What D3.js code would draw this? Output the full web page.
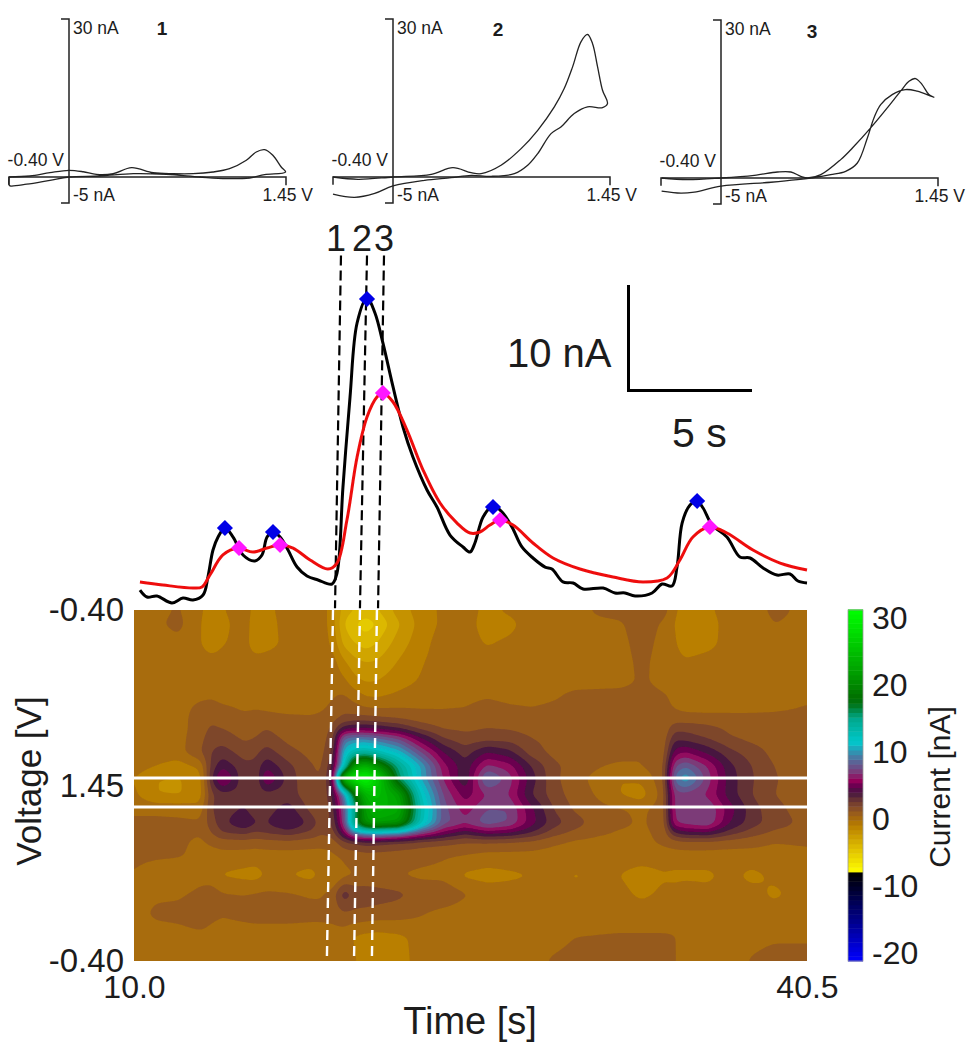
<!DOCTYPE html>
<html><head><meta charset="utf-8">
<script src="https://cdn.jsdelivr.net/npm/d3@7"></script>
<style>html,body{margin:0;background:#fff}svg{display:block}text{font-family:"Liberation Sans",Arial,sans-serif;fill:#1c1c1c}</style>
</head><body><svg id="c" width="974" height="1050"></svg>
<script>
// ---------- data ----------
const gridTimes=[10,11,12,13,13.5,14,15,15.5,16,17,18,18.5,19,19.5,20,20.5,21,22,23,24,25,26,27,28,29,30,31,32,33,34,34.5,35,36,37,38,39,40.5];
const gridScan=[0,.15,.35,.55,.75,.9,1.05,1.15,1.25,1.35,1.5,1.65,1.78,1.95,2.1,2.25,2.35,2.45,2.6,2.8,3,3.2,3.45,3.7];
const gridCurrent=[
[0,.2,.6,-.3,-1,-.6,.2,-1,-.8,0,0,0,-1,-3,-3.5,-4,-3.6,-2,-1,-.3,0,-.8,-.3,0,0,0,.7,1,1.2,1,-.3,-1,-.7,0,.3,.6,.4],
[0,.3,.8,-.4,-1.3,-.9,.2,-1.3,-1,0,-.2,0,-1,-3.5,-4.5,-5,-4.5,-2.6,-1.1,-.3,0,-1,-.8,0,0,0,.2,.3,1.2,.3,-.5,-1.4,-1,0,.2,.5,.4],
[0,0,.2,-.4,-1.2,-.6,0,-1.2,-.9,-.2,-.2,0,-.7,-2.8,-3.5,-4,-3.5,-2,-.9,0,0,-.6,-.3,0,0,0,0,.1,1,.1,-.3,-1.3,-.9,0,0,.3,.3],
[0,0,0,0,0,0,0,0,0,0,0,0,0,-1.3,-2.2,-2.5,-2.4,-1.4,-.6,0,0,0,0,0,0,0,0,0,.8,0,0,-.3,0,0,0,.2,.3],
[0,0,0,0,0,0,0,0,0,0,0,0,.2,-.2,-1.2,-1.6,-1.5,-.9,-.4,0,0,0,0,0,0,0,0,0,.7,.1,.1,0,0,0,0,.2,.1],
[0,0,0,.2,.3,0,0,0,0,0,0,0,.4,.6,0,-.6,-.7,-.3,0,0,0,.3,0,0,.3,.8,.9,1,1,.6,.3,0,0,0,0,.1,.3],
[0,0,0,.9,1.1,.8,.4,.5,.4,.2,.2,.4,.8,1.3,1,.7,.6,.6,.5,.5,.6,1.2,.8,.6,.8,.9,1,1,.9,.7,.5,.3,.2,.2,.2,.3,.6],
[0,0,.1,1,1.3,1,.8,.9,.9,.8,.7,.8,1.2,1.8,2,2,1.8,1.5,1.1,1,1,1.2,1.1,1,1,1,1,.8,.7,.9,1,1,1,1,1,1,1],
[0,0,.1,1,1.7,1.5,1,1.2,1.5,1,.9,1,1.7,4,4.5,4.5,4.3,3.5,2.2,1.4,1.3,1.5,1.4,1.2,1,1,1,.9,.9,.7,2.2,2.2,1.8,1.3,1,1,1],
[0,0,.1,1.2,2,2,1.3,1.5,1.9,1.2,1,1.1,2,8.5,9,9,8.5,7.2,4.5,2.5,1.8,2,2,1.5,1.2,1,1,.9,.5,.9,3.2,3,2.4,1.6,1.2,1,1],
[0,0,.1,1.4,2.5,3,2,2.2,3,1.8,1.2,1.2,2.5,11,13.5,14,13,11,7.5,4.5,3,4.5,3.8,2,1.2,.9,.9,.9,.5,1,5,5.5,4.2,2.8,2,1.2,.8],
[0,-.5,-1,-.3,2.8,4.3,2.8,2.8,4.3,2.8,1.6,1.3,3.5,12,22,24,21,15,10.5,6,3.8,6.8,6,3.5,1.8,1,.6,.3,.5,1.2,7.5,8.5,6.5,3.8,2.5,1.5,.8],
[-.5,-1.5,-1.6,-1,3.3,6.2,2.6,2.4,5.8,3,1.7,1.5,4,25,29,31,27,16,10.5,6.5,3.5,9,7,4,1.8,.8,.2,-.5,-.3,1.2,9,10.5,7,4,2.6,1.6,.9],
[-.3,-1.5,-1.6,-1,2.3,3,3.2,2.8,3,3,1.8,1.5,3.5,9,18,24,25,22,12.5,7.5,5,6.5,6.5,3.5,2,1,.4,-.5,-1,1,7,7,6.3,4,2.5,1.5,1],
[.3,.2,.2,-.1,2.5,3,3.6,2.8,3,4,2.2,1.5,3,7.5,15,22,24,23,13.5,8,6,7.5,7.5,4.8,2.5,1.3,.8,.6,.3,1,7,7,7.5,5,3,1.8,1],
[.7,.8,.7,.7,2,3.2,4.5,3.6,3.5,4.8,3.2,2,2.5,7,16,21,22,21,13,8,6.8,8.2,7.5,5,3,2,1,.7,.4,.9,6.5,7,7.5,4.5,3,2,1.2],
[.7,.8,.7,.6,1.5,2.5,2.8,2.3,2.6,3,2.3,1.6,2,5,10,11,11.5,10.5,7.5,5.3,3.8,5,4.6,3.5,2,1.2,.7,.4,.3,.8,3.5,4.2,4.4,3,2,1.3,1],
[.7,.8,.7,.3,.7,1,1.1,1,1.1,1.2,1,.9,1,2.2,2.5,3,2.8,2.4,2,1.8,1.5,1.5,1.4,1.2,.7,.3,.2,.2,.2,.7,1,1.2,1.2,1,.8,.5,.6],
[.8,.7,.6,.2,0,.1,0,-.1,0,0,0,0,.3,.7,.9,1,1,.9,.8,.6,.4,.1,.1,.1,0,0,0,0,0,0,0,0,0,0,.1,.2,.3],
[.4,-.3,-.5,.1,0,-.6,-.8,-.9,-.4,-.5,-.8,-.3,-.7,.2,.5,.6,.6,.5,.3,.2,-.7,-.9,-.7,-.5,-.2,-.6,-.3,-.5,-1,-.6,-.7,-.7,-.7,-.2,-.8,-.3,0],
[0,.3,.3,.8,1,.6,.5,.6,.7,.6,.4,.4,.9,3.2,2.2,2.2,2,1.7,1.2,1.3,.6,.1,0,0,0,-.2,-.3,-.2,-.7,-.3,-.2,0,-.2,0,-.1,-.7,0],
[.1,.7,.9,1.3,.8,.6,.8,.9,.9,.9,.8,.8,.9,1.4,1.3,1.2,1.1,1,.6,.2,0,0,0,0,0,0,0,0,0,0,0,0,0,0,0,0,0],
[0,0,0,.2,.1,0,0,0,0,0,0,0,0,-.1,-.6,-.8,-.9,-.7,-.2,0,0,0,.1,0,.2,.5,.55,.6,.6,.6,.55,.2,0,0,.1,.3,.3],
[0,0,0,0,0,0,0,0,0,0,0,0,0,0,-.4,-1,-1,-.8,-.2,0,0,0,0,.2,.6,.8,.8,.8,.8,.7,.6,0,0,0,.6,1,1]
];
const cbStops=[-21.2,-8.01,-8,-4,-1,0,1,2,3,4,5,5.8,7,9,11.5,15,17,18,22,31.2];
const cbColors=["#0000ff","#000000","#ffff00","#dcb800","#b97f00","#a86c0a","#965a1e","#7e462c","#643036","#461640","#6a0050","#96005a","#7c3a78","#50709f","#00c8cc","#00a88c","#007820","#006e00","#00a000","#00ff00"];
const cbTicks=[30,20,10,0,-10,-20];
const voltageTicks=[0,1.85,3.7], voltageLabels=["-0.40","1.45","-0.40"];
const timeTicks=[10,40.5];

const fastTime=[10.27,10.59,11.04,11.72,12.22,12.67,13.13,13.35,13.58,13.81,14.12,14.49,14.94,15.48,15.8,16.03,16.3,16.62,16.98,17.39,17.84,18.34,18.97,19.2,19.47,19.79,20.11,20.56,20.92,21.28,21.74,22.19,22.64,23.28,23.73,24.32,24.91,25.23,25.45,25.82,26.27,26.68,27.13,27.58,28.08,28.63,28.94,29.44,29.9,30.35,31.26,31.8,32.25,32.71,33.48,33.93,34.38,34.61,34.84,35.2,35.52,35.79,36.2,36.87,37.46,37.92,38.51,39.14,39.73,40.09,40.5];
const fastCurrent=[1.33,.67,.76,.1,.57,.38,.86,2.57,5.14,6.38,7.24,6.38,4.67,4.1,4.67,6.38,6.86,6.38,5.14,3.52,2.67,2.29,1.9,2.95,11.14,19.71,26.76,29.14,27.71,24.86,20.67,16.86,14,10.86,9.24,6.57,5.43,4.95,5.81,8.29,9.33,8.76,7.33,5.43,4.38,3.52,3.33,2.1,2,1.43,1.52,1.05,1.05,.76,1.05,1.9,1.71,3.52,7.71,9.43,9.81,9.14,7.52,6.38,4.48,4.38,3.43,2.76,2.86,2.19,2];
const slowTime=[10.27,11.31,12.67,13.08,13.44,14.03,14.71,15.39,16.03,16.62,17.21,17.98,18.79,19.2,19.65,20.11,20.56,21.01,21.28,21.74,22.37,23.1,23.87,24.64,25.23,25.68,26.13,26.59,27.18,28.08,28.99,30.21,31.71,33.07,34.16,34.74,35.33,36.1,36.87,38.05,39.28,40.5];
const slowCurrent=[2.1,1.81,1.52,1.62,2.76,4.67,5.33,4.95,5.33,5.62,5.33,4.19,3.33,3.9,8,14,17.81,19.71,20.1,19.24,16.57,12.76,9.62,7.71,6.76,6.86,7.52,8,7.52,5.81,4.38,3.33,2.57,2.1,2.48,4.19,6.38,7.33,6.76,5.14,3.9,3.24];
const fastPeakTime=[14.12,16.3,20.56,26.27,35.52], fastPeakCurrent=[7.24,6.86,29.05,9.24,9.81];
const slowPeakTime=[14.76,16.62,21.28,26.59,36.1], slowPeakCurrent=[5.33,5.62,20.1,8,7.33];
const cursorLabels=["1","2","3"];
const cursorTraceTop=[19.38,20.56,21.33], cursorTraceBottom=[19.11,20.24,21.06];
const cursorHeatTop=[19.02,20.24,21.01], cursorHeatBottom=[18.74,19.97,20.78];
const sliceScan=[1.771,2.077];

const cv1Volt=[-.4,-.26,-.127,0,.095,.184,.295,.418,.562,.695,.829,.962,1.073,1.185,1.251,1.307,1.362,1.418,1.447,1.307,1.207,1.051,.873,.651,.429,.207,0,-.127,-.282,-.393,-.4,-.4];
const cv1Current=[0,.19,.82,1.27,1,.5,.63,1.77,.82,.63,.63,.95,1.58,3.17,4.75,5.2,4.12,1.9,.95,.44,-.19,-.32,0,.5,.63,.19,0,-.63,-1.39,-1.71,-1.5,0];
const cv2Volt=[-.4,-.233,0,.256,.4,.522,.589,.722,.856,.967,1.078,1.144,1.2,1.256,1.3,1.333,1.367,1.4,1.433,1.4,1.3,1.211,1.122,1.056,.967,.9,.811,.656,.522,.389,.211,0,-.122,-.256,-.4];
const cv2Current=[0,-.44,0,.51,1.77,.82,.63,2.22,5.39,8.87,13.31,16.79,20.91,25.67,27.06,25.35,20.91,16.48,13.94,13.18,13.31,12.04,9.51,8.24,4.44,2.22,.63,.13,.32,-.13,-.63,-1.71,-3.17,-3.93,-3.3];
const cv3Volt=[-.396,-.222,0,.222,.378,.467,.533,.578,.667,.8,.889,1,1.111,1.2,1.256,1.3,1.344,1.389,1.422,1.311,1.233,1.144,1.067,1.022,.978,.911,.833,.733,.6,.511,.333,0,-.178,-.267,-.396];
const cv3Current=[0,-.32,0,.51,1.14,1.14,.32,0,.63,3.49,6.02,9.51,13.31,16.48,18.38,18.88,17.74,15.84,15.34,16.48,16.79,15.84,13.94,11.41,7.6,2.85,1.27,.63,0,-.32,-.82,-1.58,-2.72,-2.92,-2.53];
const cvNames=["1","2","3"];
const cvTopLabel="30 nA", cvBottomLabel="-5 nA", cvLeftLabel="-0.40 V", cvRightLabel="1.45 V";

// ---------- scales ----------
const svg=d3.select("#c");
const defs=svg.append("defs");
defs.append("filter").attr("id","soft").attr("x","-5%").attr("y","-5%").attr("width","110%").attr("height","110%")
  .append("feGaussianBlur").attr("stdDeviation",.6);
defs.append("filter").attr("id","soft2").attr("filterUnits","userSpaceOnUse").attr("x",0).attr("y",0).attr("width",974).attr("height",1050)
  .append("feGaussianBlur").attr("stdDeviation",.45);
defs.append("clipPath").attr("id","hc").append("rect").attr("x",134).attr("y",610).attr("width",673).attr("height",351);

const x=d3.scaleLinear().domain([10,40.5]).range([134,807]);
const yScan=d3.scaleLinear().domain([0,3.7]).range([610,961]);
const yI=d3.scaleLinear().domain([0,30]).range([604,289]);
const cb=d3.scaleLinear().domain(cbStops).range(cbColors).interpolate(d3.interpolateRgb);
const yCb=d3.scaleLinear().domain([-21.2,31.2]).range([961,610]);

// ---------- heat map ----------
gridCurrent.forEach((r,i)=>{if(r.length!==gridTimes.length)throw new Error("row "+i+" len "+r.length)});
if(gridCurrent.length!==gridScan.length)throw new Error("rows");
const cell=2, W=Math.round(673/cell), H=Math.round(351/cell);
const tOf=d3.scaleLinear().domain([0,W-1]).range([10,40.5]);
const sOf=d3.scaleLinear().domain([0,H-1]).range([0,3.7]);
const bis=d3.bisector(d=>d).right;
function locate(arr,v){let i=Math.min(arr.length-2,Math.max(0,bis(arr,v)-1));let f=(v-arr[i])/(arr[i+1]-arr[i]);return [i,f];}
const field=new Float64Array(W*H);
for(let j=0;j<H;j++){const [r,fr]=locate(gridScan,sOf(j));
  for(let i=0;i<W;i++){const [c,fc]=locate(gridTimes,tOf(i));
    const g=gridCurrent;
    field[j*W+i]=(g[r][c]*(1-fc)+g[r][c+1]*fc)*(1-fr)+(g[r+1][c]*(1-fc)+g[r+1][c+1]*fc)*fr;
  }}
d3.blur2({data:field,width:W,height:H},1);
const heatLevels=d3.range(-8.5,32,1);
const contours=d3.contours().size([W,H]).smooth(true).thresholds(heatLevels)(field);
const path=d3.geoPath(d3.geoIdentity().scale(673/(W-1)).translate([134-673/(W-1)*.5,610-351/(H-1)*.5]));
const heat=svg.append("g").attr("clip-path","url(#hc)").append("g").attr("filter","url(#soft)");
heat.append("rect").attr("x",130).attr("y",606).attr("width",681).attr("height",359).attr("fill",cb(0));
heat.selectAll("path").data(contours).join("path").attr("d",path).attr("fill",d=>cb(d.value+.5));

// slice lines & cursors over heat
svg.append("g").selectAll("line").data(sliceScan).join("line")
  .attr("x1",x(10)).attr("x2",x(40.5)).attr("y1",yScan).attr("y2",yScan)
  .attr("stroke","#fff").attr("stroke-width",3);
svg.append("g").selectAll("line").data(d3.range(3)).join("line")
  .attr("x1",i=>x(cursorHeatTop[i])).attr("x2",i=>x(cursorHeatBottom[i]))
  .attr("y1",yScan(0)).attr("y2",yScan(3.7))
  .attr("stroke","#fff").attr("stroke-width",2.4).attr("stroke-dasharray","10 6");

// ---------- traces ----------
const tr=svg.append("g").attr("filter","url(#soft2)");
tr.append("g").selectAll("line").data(d3.range(3)).join("line")
  .attr("x1",i=>x(cursorTraceTop[i])).attr("x2",i=>x(cursorTraceBottom[i]))
  .attr("y1",yI(33.2)).attr("y2",yI(-.4))
  .attr("stroke","#000").attr("stroke-width",2.2).attr("stroke-dasharray","10 5");
const traceLine=d3.line().x(d=>x(d[0])).y(d=>yI(d[1])).curve(d3.curveCatmullRom.alpha(.5));
tr.append("path").attr("d",traceLine(d3.zip(fastTime,fastCurrent))).attr("fill","none").attr("stroke","#000").attr("stroke-width",3);
tr.append("path").attr("d",traceLine(d3.zip(slowTime,slowCurrent))).attr("fill","none").attr("stroke","#ee1111").attr("stroke-width",3);
const dia=d3.symbol().type(d3.symbolSquare).size(130);
tr.append("g").selectAll("path").data(d3.zip(fastPeakTime,fastPeakCurrent)).join("path").attr("d",dia)
  .attr("transform",d=>`translate(${x(d[0])},${yI(d[1])}) rotate(45)`).attr("fill","#0000e6");
tr.append("g").selectAll("path").data(d3.zip(slowPeakTime,slowPeakCurrent)).join("path").attr("d",dia)
  .attr("transform",d=>`translate(${x(d[0])},${yI(d[1])}) rotate(45)`).attr("fill","#ff14ff");

// cursor numbers
svg.append("g").selectAll("text").data(cursorLabels).join("text").text(d=>d)
  .attr("x",(d,i)=>[336,362,384][i]).attr("y",251).attr("text-anchor","middle").attr("font-size",36);

// scale bar
svg.append("path").attr("d","M628.5,285V390.5H752").attr("fill","none").attr("stroke","#000").attr("stroke-width",3);
svg.append("text").text("10 nA").attr("x",507).attr("y",367).attr("font-size",40);
svg.append("text").text("5 s").attr("x",672).attr("y",447).attr("font-size",41);

// ---------- axes ----------
function clean(g){g.select(".domain").remove();g.selectAll("text").style("font-family",'"Liberation Sans",Arial,sans-serif').attr("fill","#1c1c1c");}
svg.append("g").attr("transform","translate(134,0)")
  .call(d3.axisLeft(yScan).tickValues(voltageTicks).tickSize(0).tickPadding(10).tickFormat((d,i)=>voltageLabels[i]))
  .call(clean).attr("font-size",33);
svg.append("g").attr("transform","translate(0,961)")
  .call(d3.axisBottom(x).tickValues(timeTicks).tickSize(0).tickPadding(14).tickFormat(d3.format(".1f")))
  .call(clean).attr("font-size",32);
svg.append("text").text("Time [s]").attr("x",470).attr("y",1034).attr("text-anchor","middle").attr("font-size",38);
svg.append("text").text("Voltage [V]").attr("transform","translate(41,781) rotate(-90)").attr("text-anchor","middle").attr("font-size",35);

// colour bar
const cbVals=d3.range(-21.2,31.2,.7);
svg.append("g").selectAll("rect").data(cbVals).join("rect")
  .attr("x",848).attr("width",15).attr("y",d=>yCb(d+.7)).attr("height",d=>yCb(d)-yCb(d+.7)+.5).attr("fill",d=>cb(d+.35));
svg.append("rect").attr("x",848).attr("y",610).attr("width",15).attr("height",351).attr("fill","none").attr("stroke","#999").attr("stroke-width",.8);
svg.append("g").attr("transform","translate(863,0)")
  .call(d3.axisRight(yCb).tickValues(cbTicks).tickSize(0).tickPadding(9).tickFormat(d=>String(d)))
  .call(clean).attr("font-size",32);
svg.append("text").text("Current [nA]").attr("transform","translate(950,787) rotate(-90)").attr("text-anchor","middle").attr("font-size",30);

// ---------- CV insets ----------
const cvData=[[cv1Volt,cv1Current],[cv2Volt,cv2Current],[cv3Volt,cv3Current]];
const cvOrigins=[69,393,721], cvBase=[177,177,178], numX=[162,498,812], numY=[35,36,38];
const cvLine=d3.line().curve(d3.curveCatmullRom.alpha(.5));
cvData.forEach(([v,c],k)=>{
  const o=cvOrigins[k], b=cvBase[k];
  const vx=d3.scaleLinear().domain([-.4,0,1.45]).range([o-60,o,o+217]);
  const iy=d3.scaleLinear().domain([-5,0,30]).range([b+26,b,b-158]);
  const g=svg.append("g").attr("filter","url(#soft2)");
  g.append("path").attr("d",cvLine(d3.zip(v,c).map(d=>[vx(d[0]),iy(d[1])]))).attr("fill","none").attr("stroke","#222").attr("stroke-width",1.3);
  g.append("path").attr("d",`M${vx(0)-8},${iy(30)}H${vx(0)}V${iy(-5)}H${vx(0)-8}`).attr("fill","none").attr("stroke","#222").attr("stroke-width",1.5);
  g.append("path").attr("d",`M${vx(-.4)},${iy(-1.5)}V${iy(0)}H${vx(1.45)}V${iy(-1.6)}`).attr("fill","none").attr("stroke","#222").attr("stroke-width",1.5);
  const t=(s,xx,yy,anchor)=>svg.append("text").text(s).attr("x",xx).attr("y",yy).attr("font-size",17.5).attr("text-anchor",anchor||"start").attr("fill","#333");
  t(cvTopLabel,vx(0)+4,iy(30)+15);
  t(cvBottomLabel,vx(0)+4,b+24);
  t(cvLeftLabel,vx(0)-5,b-11,"end");
  t(cvRightLabel,vx(1.45)+27,b+24,"end");
  svg.append("text").text(cvNames[k]).attr("x",numX[k]).attr("y",numY[k]).attr("text-anchor","middle").attr("font-size",19).attr("font-weight","bold");
});
</script></body></html>
